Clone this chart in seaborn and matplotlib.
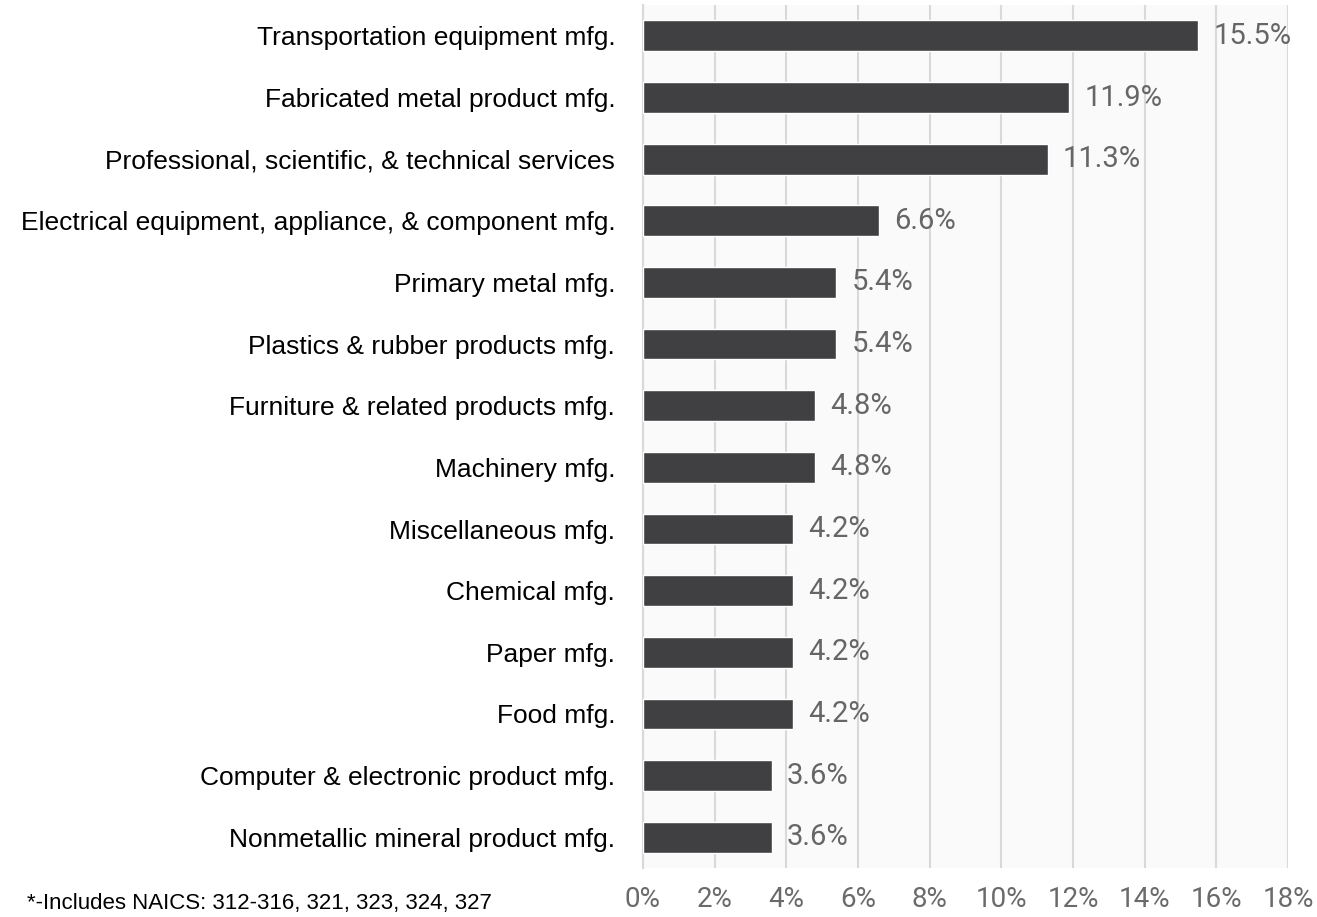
import pandas as pd
import matplotlib.pyplot as plt
import seaborn as sns

# Data
industries = [
    "Transportation equipment mfg.",
    "Fabricated metal product mfg.",
    "Professional, scientific, & technical services",
    "Electrical equipment, appliance, & component mfg.",
    "Primary metal mfg.",
    "Plastics & rubber products mfg.",
    "Furniture & related products mfg.",
    "Machinery mfg.",
    "Miscellaneous mfg.",
    "Chemical mfg.",
    "Paper mfg.",
    "Food mfg.",
    "Computer & electronic product mfg.",
    "Nonmetallic mineral product mfg.",
]
shares = [15.5, 11.9, 11.3, 6.6, 5.4, 5.4, 4.8, 4.8, 4.2, 4.2, 4.2, 4.2, 3.6, 3.6]
x_ticks = [0, 2, 4, 6, 8, 10, 12, 14, 16, 18]
footnote = "*-Includes NAICS: 312-316, 321, 323, 324, 327"

df = pd.DataFrame({"industry": industries, "share": shares})

sns.set_theme(style="white")
plt.rcParams["font.family"] = ["Liberation Sans", "DejaVu Sans"]

fig = plt.figure(figsize=(13.17, 9.17), dpi=100)
ax = fig.add_axes([0.4882, 0.0534, 0.4898, 0.9411])
ax.set_facecolor("#fafafa")

sns.barplot(data=df, x="share", y="industry", color="#404042",
            saturation=1, width=0.5, ax=ax, zorder=3)

ax.set_xlim(0, 18)
ax.set_ylim(len(industries) - 0.5, -0.5)
ax.set_xticks(x_ticks)
ax.set_xticklabels([f"{t}%" for t in x_ticks], fontsize=20, color="#6a6a6a",
                   family="Roboto", fontweight="normal")
ax.tick_params(axis="x", length=0, pad=13)
ax.tick_params(axis="y", length=0, pad=20, labelsize=19, labelcolor="black")
ax.xaxis.grid(True, color="#d9d9d9", linewidth=1.5, zorder=0)
ax.yaxis.grid(False)
for side in ["top", "right", "bottom"]:
    ax.spines[side].set_visible(False)
ax.spines["left"].set_color("#d9d9d9")
ax.spines["left"].set_linewidth(1.5)
ax.set_xlabel("")
ax.set_ylabel("")

for i, v in enumerate(shares):
    ax.text(v + 0.42, i, f"{v:.1f}%", va="center", ha="left", fontsize=21,
            color="#666666", family="Roboto", fontweight="normal", zorder=4)

fig.text(27 / 1317, 1 - 904 / 917, footnote, fontsize=16, color="black",
         va="center", ha="left")

fig.savefig("out.png", dpi=100)
